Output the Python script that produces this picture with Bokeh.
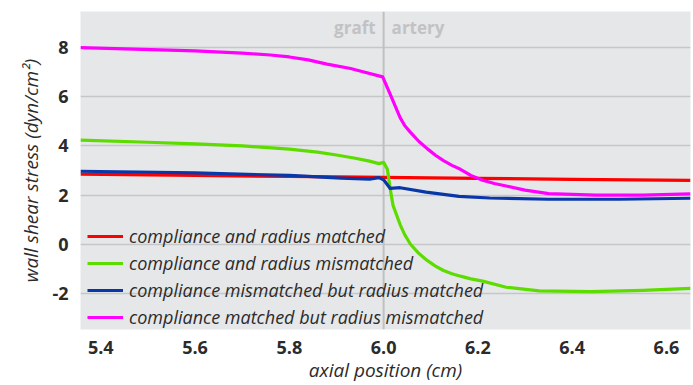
from bokeh.plotting import figure
from bokeh.models import Range1d, FixedTicker, Span, Label, Legend, LegendItem, PrintfTickFormatter
from bokeh.embed import file_html
from bokeh.resources import INLINE

# --- data ---
x_red = [5.357, 5.6, 5.8, 6.0, 6.2, 6.4, 6.651]
y_red = [2.85, 2.8, 2.76, 2.72, 2.68, 2.64, 2.6]

x_green = [5.357, 5.5, 5.6, 5.7, 5.8, 5.86, 5.9, 5.94, 5.97, 5.99, 6.0, 6.008, 6.014,
           6.02, 6.035, 6.045, 6.057, 6.075, 6.093, 6.11, 6.127, 6.145, 6.163, 6.185,
           6.21, 6.26, 6.33, 6.44, 6.55, 6.651]
y_green = [4.24, 4.15, 4.08, 4.0, 3.87, 3.75, 3.63, 3.5, 3.38, 3.28, 3.33, 3.05, 2.26,
           1.58, 0.8, 0.38, 0.0, -0.38, -0.67, -0.89, -1.07, -1.2, -1.3, -1.41,
           -1.5, -1.75, -1.9, -1.93, -1.88, -1.8]

x_blue = [5.357, 5.6, 5.8, 5.91, 5.97, 5.99, 6.0, 6.014, 6.035, 6.09, 6.16, 6.225,
          6.35, 6.5, 6.651]
y_blue = [2.97, 2.9, 2.8, 2.69, 2.65, 2.71, 2.62, 2.27, 2.3, 2.12, 1.95, 1.88,
          1.83, 1.83, 1.87]

x_mag = [5.357, 5.6, 5.7, 5.76, 5.8, 5.84, 5.88, 5.93, 5.95, 5.998, 6.015, 6.035, 6.045,
         6.057, 6.075, 6.093, 6.11, 6.127, 6.145, 6.163, 6.185, 6.21, 6.235, 6.26,
         6.3, 6.35, 6.45, 6.55, 6.651]
y_mag = [8.0, 7.87, 7.78, 7.7, 7.62, 7.5, 7.33, 7.15, 7.05, 6.81, 6.06, 5.15, 4.82,
         4.55, 4.18, 3.88, 3.62, 3.4, 3.21, 3.05, 2.8, 2.6, 2.47, 2.37, 2.2,
         2.06, 2.0, 2.0, 2.05]

labels = ["compliance and radius matched",
          "compliance and radius mismatched",
          "compliance mismatched but radius matched",
          "compliance matched but radius mismatched"]
colors = ["#ff0000", "#5ddc00", "#0a37a8", "#ff00ff"]

x_ticks = [5.4, 5.6, 5.8, 6.0, 6.2, 6.4, 6.6]
y_ticks = [-2, 0, 2, 4, 6, 8]

FONT = "Open Sans"
TXT = "#2b2b2b"

p = figure(width=693, height=385, output_backend="svg", toolbar_location=None,
           x_range=Range1d(5.357, 6.651), y_range=Range1d(-3.47, 9.47),
           min_border_left=80, min_border_right=3, min_border_top=11,
           min_border_bottom=47, outline_line_color=None,
           background_fill_color="#e6e7e9", border_fill_color="white")

p.xgrid.visible = False
p.ygrid.grid_line_color = "#c6c6c8"
p.ygrid.grid_line_width = 1.5

p.xaxis.ticker = FixedTicker(ticks=x_ticks)
p.yaxis.ticker = FixedTicker(ticks=y_ticks)
p.xaxis.formatter = PrintfTickFormatter(format="%.1f")
p.yaxis.formatter = PrintfTickFormatter(format="%d")
for ax in (p.xaxis[0], p.yaxis[0]):
    ax.axis_line_color = None
    ax.major_tick_line_color = None
    ax.minor_tick_line_color = None
    ax.major_label_text_font = FONT
    ax.major_label_text_font_style = "bold"
    ax.major_label_text_font_size = "18px"
    ax.major_label_text_color = TXT
    ax.axis_label_text_font = FONT
    ax.axis_label_text_font_style = "italic"
    ax.axis_label_text_font_size = "19px"
    ax.axis_label_text_color = TXT
p.xaxis.axis_label = "axial position (cm)"
p.yaxis.axis_label = "wall shear stress (dyn/cm²)"
p.xaxis.major_label_standoff = 5
p.xaxis.axis_label_standoff = 0
p.yaxis.major_label_standoff = 6
p.yaxis.axis_label_standoff = 5

vline = Span(location=6.0, dimension="height", line_color="#c0c0c2", line_width=2,
             level="underlay")
p.add_layout(vline)

lbl_kw = dict(text_font=FONT, text_font_style="bold", text_font_size="17px",
              text_color="#c2c2c4", text_baseline="middle")
p.add_layout(Label(x=6.0, y=8.8, x_offset=-8, text="graft", text_align="right", **lbl_kw))
p.add_layout(Label(x=6.0, y=8.8, x_offset=8, text="artery", text_align="left", **lbl_kw))

rs = []
for xs, ys, c in [(x_red, y_red, colors[0]), (x_green, y_green, colors[1]),
                  (x_blue, y_blue, colors[2]), (x_mag, y_mag, colors[3])]:
    rs.append(p.line(xs, ys, line_color=c, line_width=3.2, line_join="round"))

legend = Legend(items=[LegendItem(label=l, renderers=[r]) for l, r in zip(labels, rs)],
                location=(7, 0), padding=0, margin=0, spacing=3,
                glyph_width=36, glyph_height=20, label_height=20, label_standoff=6,
                background_fill_alpha=0, border_line_color=None,
                label_text_font=FONT, label_text_font_style="italic",
                label_text_font_size="18px", label_text_color=TXT)
p.add_layout(legend)

open("out.html", "w").write(file_html(p, INLINE))
